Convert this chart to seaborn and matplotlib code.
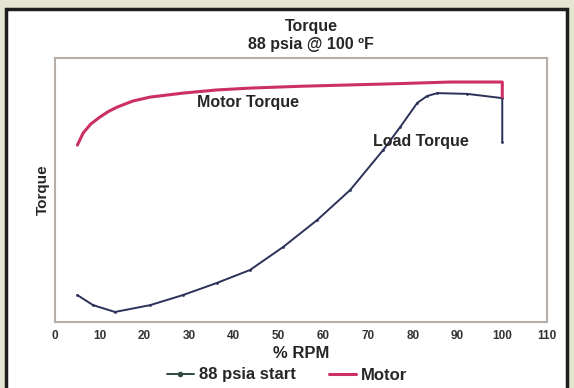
import matplotlib
matplotlib.use("Agg")
import matplotlib.pyplot as plt
import matplotlib.patches as mpatches
import seaborn as sns
import pandas as pd

# Motor torque vs speed
motor_rpm = [5, 6.3, 8, 10.1, 12, 13.9, 17.4, 21.3, 28.6, 36.2, 43.6, 55, 66, 77, 88.4, 100, 100]
motor_torque = [67.0, 71.6, 75.0, 77.7, 79.8, 81.4, 83.7, 85.2, 86.7, 87.9, 88.6, 89.3, 89.8, 90.3, 90.9, 90.9, 85.2]

# Load torque, 88 psia start
load_rpm = [5, 8.5, 13.4, 21.3, 28.6, 36.2, 43.6, 51, 58.6, 66, 73.4, 77.2, 81, 83.2, 85.5, 92.2, 100, 100]
load_torque = [10.2, 6.4, 3.8, 6.4, 10.2, 14.8, 19.7, 28.4, 38.6, 50.0, 65.2, 73.9, 83.0, 85.6, 86.7, 86.4, 84.8, 68.2]

x_ticks = [0, 10, 20, 30, 40, 50, 60, 70, 80, 90, 100, 110]

sns.set_style("white")
plt.rcParams['font.family'] = ['Liberation Sans Narrow', 'Liberation Sans', 'DejaVu Sans']

BG = "#e4e6d1"
MOTOR_C = "#cc2f66"
LOAD_C = "#2b3158"

fig = plt.figure(figsize=(5.74, 3.88), dpi=100)
fig.patch.set_facecolor(BG)

# background layer: white panel with dark frame
bg_ax = fig.add_axes([0, 0, 1, 1], zorder=-1)
bg_ax.set_xlim(0, 574)
bg_ax.set_ylim(388, 0)
bg_ax.axis("off")
bg_ax.add_patch(mpatches.Rectangle((6, 9), 561, 400, facecolor="white",
                                   edgecolor="#1e1e1e", linewidth=2.5))

ax = fig.add_axes([55 / 574, 66 / 388, 492 / 574, 264 / 388])
ax.set_facecolor("white")

load_df = pd.DataFrame({"rpm": load_rpm, "torque": load_torque})
motor_df = pd.DataFrame({"rpm": motor_rpm, "torque": motor_torque})

sns.lineplot(data=load_df, x="rpm", y="torque", sort=False, estimator=None, ax=ax,
             color=LOAD_C, linewidth=1.4, marker="o", markersize=2,
             markeredgewidth=0, label="88 psia start")
sns.lineplot(data=motor_df, x="rpm", y="torque", sort=False, estimator=None, ax=ax,
             color=MOTOR_C, linewidth=2.2, label="Motor")

ax.set_xlim(0, 110)
ax.set_ylim(0, 100)
ax.set_xticks(x_ticks)
ax.set_xticklabels([str(t) for t in x_ticks], fontsize=8.5, fontweight="bold", color="#333333")
ax.set_yticks([])
ax.tick_params(axis="x", length=0, pad=6)
for s in ax.spines.values():
    s.set_color("#b6aea8")
    s.set_linewidth(1.5)

ax.set_xlabel("% RPM", fontsize=12, fontweight="bold", labelpad=3)
ax.set_ylabel("Torque", fontsize=11, fontweight="bold", labelpad=4)

ax.text(43.2, 83.3, "Motor Torque", fontsize=11.5, fontweight="bold",
        ha="center", va="center")
ax.text(81.7, 68.2, "Load Torque", fontsize=11.5, fontweight="bold",
        ha="center", va="center")

fig.text(311 / 574, 1 - 27 / 388, "Torque", fontsize=11.5, fontweight="bold",
         ha="center", va="center")
fig.text(311 / 574, 1 - 45 / 388, "88 psia @ 100 ºF", fontsize=11.5, fontweight="bold",
         ha="center", va="center")

leg = ax.legend(loc="center", bbox_to_anchor=(287 / 574, 13 / 388),
                bbox_transform=fig.transFigure, ncol=2, frameon=False,
                prop={"weight": "bold", "size": 12}, handlelength=1.6,
                columnspacing=2.0, handletextpad=0.3)
leg.get_lines()[0].set_color("#2f4a3c")
leg.get_lines()[0].set_markersize(4)

fig.savefig("out.png", dpi=100, facecolor=BG)
